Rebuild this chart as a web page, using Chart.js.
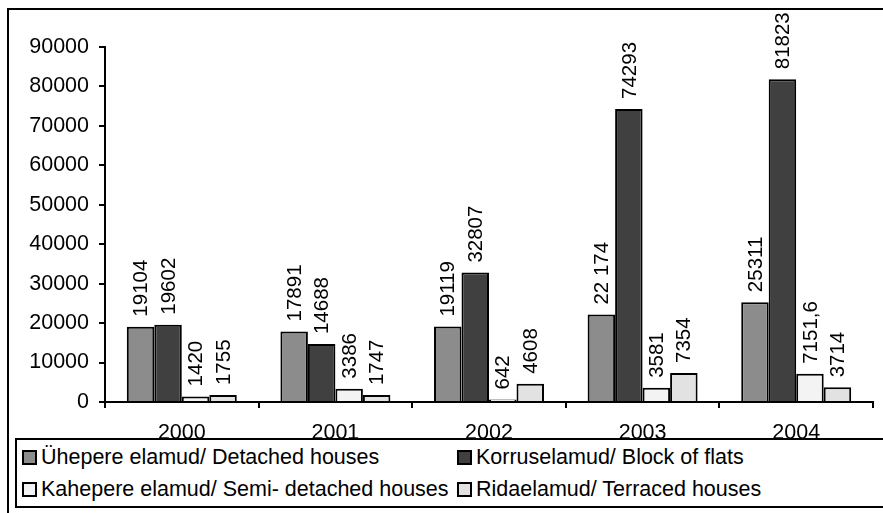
<!DOCTYPE html>
<html>
<head>
<meta charset="utf-8">
<script src="https://cdn.jsdelivr.net/npm/chart.js@4/dist/chart.umd.min.js"></script>
<style>
  body { margin: 0; background: #fff; font-family: "Liberation Sans", Arial, sans-serif; }
  #wrap { position: relative; width: 883px; height: 513px; overflow: hidden; }
  #frame { position: absolute; left: 7px; top: 8px; width: 900px; height: 520px; border: 2px solid #000; box-sizing: border-box; }
  canvas { position: absolute; left: 0; top: 0; }
  #legend { position: absolute; left: 15px; top: 438px; width: 900px; height: 70px; border: 2px solid #000; box-sizing: border-box; background: #fff; }
  .item { position: absolute; font-size: 21.5px; line-height: 21px; color: #000; white-space: nowrap; }
  .sw { display: inline-block; width: 15px; height: 15px; border: 2px solid #000; box-sizing: border-box; margin-right: 4px; vertical-align: -1px; }
</style>
</head>
<body>
<div id="wrap">
  <div id="frame"></div>
  <canvas id="c" width="883" height="513"></canvas>
  <div id="legend"></div>
</div>
<script>
const years = ['2000', '2001', '2002', '2003', '2004'];
const seriesNames = [
  'Ühepere elamud/ Detached houses',
  'Korruselamud/ Block of flats',
  'Kahepere elamud/ Semi- detached houses',
  'Ridaelamud/ Terraced houses'
];
const detached = [19104, 17891, 19119, 22174, 25311];
const flats = [19602, 14688, 32807, 74293, 81823];
const semiDetached = [1420, 3386, 642, 3581, 7151.6];
const terraced = [1755, 1747, 4608, 7354, 3714];
// labels as printed on the original
const detachedLabels = ['19104', '17891', '19119', '22 174', '25311'];
const flatsLabels = ['19602', '14688', '32807', '74293', '81823'];
const semiLabels = ['1420', '3386', '642', '3581', '7151,6'];
const terracedLabels = ['1755', '1747', '4608', '7354', '3714'];
const colors = ['#8c8c8c', '#404040', '#f3f3f3', '#e2e2e2'];

const FONT = '"Liberation Sans", Arial, sans-serif';

// rotated value labels above bars
const barLabels = {
  id: 'barLabels',
  afterDatasetsDraw(chart) {
    const ctx = chart.ctx;
    chart.data.datasets.forEach((ds, i) => {
      chart.getDatasetMeta(i).data.forEach((bar, j) => {
        ctx.save();
        ctx.translate(bar.x, bar.y - 10);
        ctx.rotate(-Math.PI / 2);
        ctx.font = '20.5px ' + FONT;
        ctx.fillStyle = '#000';
        ctx.textAlign = 'left';
        ctx.textBaseline = 'middle';
        ctx.fillText(ds.valueLabels[j], 0, 1);
        ctx.restore();
      });
    });
  }
};

const allValues = [detached, flats, semiDetached, terraced];
const allLabels = [detachedLabels, flatsLabels, semiLabels, terracedLabels];

new Chart(document.getElementById('c'), {
  type: 'bar',
  data: {
    labels: years,
    datasets: allValues.map((vals, i) => ({
      label: seriesNames[i],
      data: vals,
      valueLabels: allLabels[i],
      backgroundColor: colors[i],
      borderColor: '#000',
      borderWidth: 2,
      barPercentage: 1,
      categoryPercentage: 0.716
    }))
  },
  options: {
    responsive: false,
    animation: false,
    layout: { padding: { top: 47, left: 0, right: 10, bottom: 61 } },
    scales: {
      x: {
        afterFit: s => { s.height = 50; },
        grid: { offset: true, drawOnChartArea: false, tickLength: 6, color: '#000', lineWidth: 2 },
        border: { color: '#000', width: 2 },
        ticks: { color: '#000', font: { family: FONT, size: 21.5 }, padding: 12 }
      },
      y: {
        min: 0,
        max: 90000,
        afterFit: s => { s.width = 105; },
        grid: { drawOnChartArea: false, tickLength: 6, color: '#000', lineWidth: 2 },
        border: { color: '#000', width: 2 },
        ticks: { stepSize: 10000, color: '#000', font: { family: FONT, size: 21.5 }, padding: 10,
                 callback: v => String(v) }
      }
    },
    plugins: {
      legend: { display: false },
      tooltip: { enabled: false }
    }
  },
  plugins: [barLabels]
});

// legend: two rows, two columns
const legend = document.getElementById('legend');
const pos = [[5, 7], [440, 7], [5, 39], [440, 39]];
seriesNames.forEach((name, i) => {
  const it = document.createElement('div');
  it.className = 'item';
  it.style.left = pos[i][0] + 'px';
  it.style.top = pos[i][1] + 'px';
  it.innerHTML = '<span class="sw" style="background:' + colors[i] + '"></span>' + name;
  legend.appendChild(it);
});
</script>
</body>
</html>
